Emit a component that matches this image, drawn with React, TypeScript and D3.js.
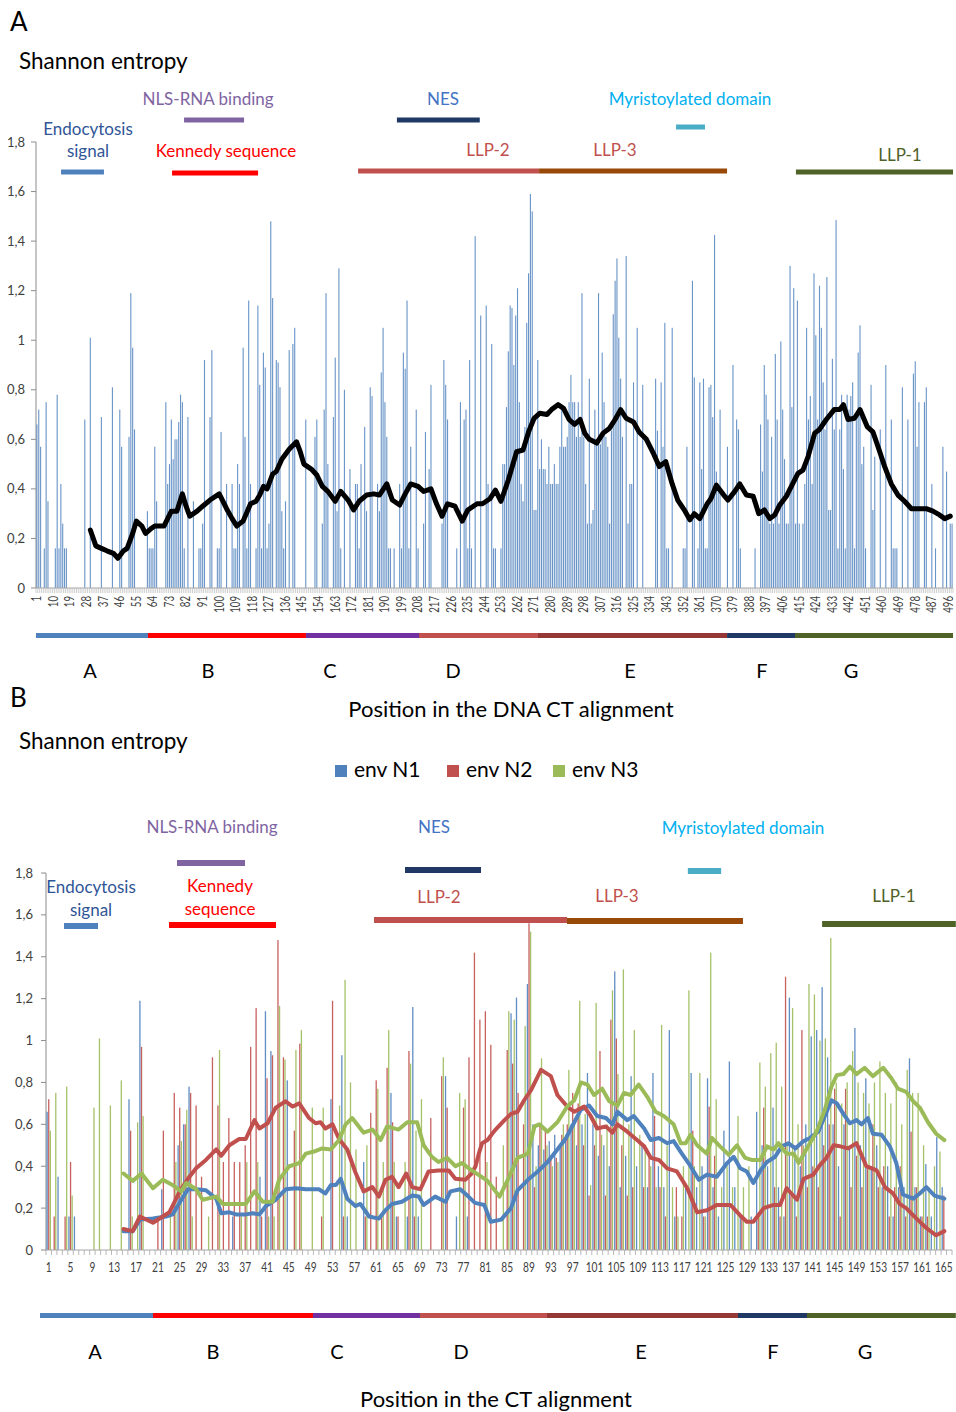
import React from "react";
import * as d3 from "d3";

const NTOP = 498;
const NBOT = 166;

// Panel A: entropy per DNA position [position, entropy]
const topBars: [number, number][] = [
[1,.66],[2,.72],[3,.57],[5,.16],[6,.75],[7,.35],[11,.16],[12,.78],[13,.16],[14,.42],[15,.26],[16,.16],[17,.16],[27,.68],[30,1.01],[36,.69],[42,.81],[46,.72],[47,.57],[51,.61],[52,1.19],[53,.97],[54,.64],[61,.31],[62,.16],[63,.16],[64,.16],[65,.57],[66,.35],[71,.75],[72,.42],[73,.5],[74,.68],[75,.52],[76,.6],[77,.6],[78,.67],[79,.78],[80,.75],[81,.16],[83,.69],[86,.35],[89,.16],[90,.16],[91,.26],[92,.92],[95,.69],[96,.96],[99,.16],[100,.16],[101,.63],[104,.42],[107,.42],[108,.16],[109,.16],[110,.5],[111,.42],[113,.97],[114,.61],[115,.16],[116,1.16],[117,.42],[120,.16],[121,1.14],[122,.82],[123,.16],[124,.95],[125,.89],[126,.16],[127,.26],[128,1.48],[129,1.17],[131,.92],[132,.91],[133,.81],[134,.31],[135,.16],[136,.35],[138,.96],[140,.985],[141,1.05],[147,.68],[152,.61],[153,.68],[156,.26],[157,.72],[158,1.19],[159,.5],[162,.69],[163,.93],[164,.31],[165,1.29],[166,.16],[168,.8],[171,.48],[174,.42],[175,.42],[176,.16],[177,.5],[179,.65],[180,.31],[182,.81],[183,.775],[186,.42],[187,.31],[188,.87],[189,1.05],[190,.75],[191,.61],[192,.16],[193,.16],[195,.16],[198,.42],[199,.16],[200,.95],[201,.885],[202,1.16],[203,.16],[204,.57],[207,.72],[208,.16],[211,.26],[212,.63],[214,.48],[215,.82],[221,.26],[222,.92],[223,.82],[224,.68],[229,.16],[231,.75],[233,.68],[234,.72],[235,.16],[236,.92],[237,.16],[239,1.42],[242,1.1],[245,1.14],[246,.42],[248,.985],[249,.16],[250,.16],[253,.16],[254,.5],[255,.5],[256,.73],[257,.955],[258,1.14],[259,1.13],[260,.9],[261,1.1],[262,1.21],[263,.75],[264,.42],[265,.35],[266,.65],[267,1.07],[268,1.27],[269,1.59],[270,1.52],[271,.315],[272,.315],[273,.92],[274,.48],[275,.6],[276,.48],[277,.48],[278,.42],[279,.57],[280,.42],[281,.42],[282,.5],[283,.42],[284,.42],[285,.57],[286,.73],[287,.57],[288,.57],[289,.61],[290,.75],[291,.86],[292,.75],[293,.75],[294,.61],[295,.75],[296,.61],[297,1.19],[298,.61],[299,.42],[300,.26],[301,.845],[302,.26],[303,.315],[304,.72],[305,.6],[306,1.19],[307,.58],[308,.95],[309,.75],[310,.61],[311,.57],[312,.26],[313,.635],[314,1.105],[315,1.24],[316,1.33],[317,1.01],[318,.845],[319,.61],[321,1.34],[322,.26],[323,.42],[324,.42],[325,.83],[327,1.05],[330,.82],[337,.845],[338,.635],[340,.83],[341,.57],[342,1.07],[343,.16],[344,.16],[346,1.05],[352,.16],[353,.16],[354,.57],[357,1.24],[358,.85],[360,.16],[361,.83],[362,.48],[363,.845],[364,.16],[365,.16],[366,.81],[367,.82],[368,.69],[369,1.425],[370,.47],[371,.42],[372,.72],[376,.57],[379,.9],[381,.68],[382,.64],[383,.16],[391,.16],[394,.66],[395,.47],[396,.9],[397,.78],[398,.68],[399,.26],[400,.61],[401,.26],[402,.945],[403,.68],[404,.26],[405,.995],[406,.72],[407,.52],[408,.26],[409,.26],[410,1.3],[411,.73],[412,1.21],[413,.26],[414,1.16],[415,.26],[417,.26],[418,.42],[419,1.05],[420,.68],[421,.775],[422,.42],[423,1.27],[424,1.02],[425,.68],[426,1.22],[427,1.05],[428,.83],[429,.64],[430,1.255],[431,.315],[432,.315],[433,.925],[434,.64],[435,1.485],[436,.16],[437,.64],[438,.78],[439,.48],[440,.16],[441,.78],[442,.72],[443,.775],[444,.83],[445,.16],[446,.68],[447,.95],[448,1.06],[449,.5],[450,.57],[451,.16],[454,.82],[455,.315],[456,.53],[459,.64],[462,.9],[465,.68],[466,.16],[467,.16],[468,.16],[471,.81],[474,.68],[477,.865],[478,.915],[479,.57],[480,.75],[483,.75],[484,.81],[487,.42],[489,.16],[493,.57],[495,.47],[497,.26],[498,.26]
];

// Panel A: moving-average trend [position, entropy]
const topTrend: [number, number][] = [
[30,.234],[33,.17],[36,.16],[39,.15],[42.5,.14],[45,.12],[48,.15],[50,.16],[53,.22],[55,.27],[58,.25],[60,.22],[63,.24],[65,.25],[70,.25],[74,.31],[77,.31],[80,.38],[82,.33],[84,.29],[88,.31],[91,.33],[95,.355],[100,.38],[104,.32],[107,.28],[109.5,.25],[113,.27],[117,.34],[120,.35],[122,.375],[124,.41],[126,.40],[129,.46],[131,.47],[134,.52],[138,.56],[142,.59],[144,.55],[146,.50],[150,.48],[153,.456],[156,.41],[159,.39],[163,.35],[166,.39],[170,.355],[173,.315],[176,.35],[180,.375],[184,.38],[187,.375],[191,.42],[194,.355],[198,.335],[201,.38],[204,.42],[208,.41],[211,.39],[215,.40],[218,.34],[221,.29],[224,.34],[228,.33],[232,.27],[235,.315],[240,.34],[243,.34],[247,.36],[250,.395],[253,.35],[257,.436],[261.5,.55],[265,.557],[268,.63],[271,.685],[274,.705],[278,.70],[280.5,.72],[284,.74],[287,.725],[290,.68],[293,.66],[296,.68],[298.5,.625],[301,.60],[305,.585],[308.5,.625],[312,.645],[315,.68],[318,.72],[321,.685],[325,.67],[328,.63],[332,.60],[336,.54],[339,.49],[342.5,.51],[346,.42],[349,.355],[353,.31],[355.6,.275],[358,.30],[361,.28],[365,.34],[367,.36],[370,.415],[374,.375],[376.3,.355],[380,.39],[382.7,.42],[386.3,.375],[390,.37],[393,.30],[396,.315],[399,.28],[401.7,.295],[404.4,.335],[408,.37],[410.7,.41],[414.3,.463],[417,.476],[419.8,.53],[423.4,.625],[426,.64],[429.7,.68],[434,.72],[437,.72],[439,.74],[441.5,.68],[445,.685],[448,.72],[452,.65],[455,.63],[457.8,.57],[461.4,.49],[465,.42],[468.6,.375],[472.2,.35],[475.9,.32],[480.4,.32],[484,.32],[487.6,.31],[491.2,.295],[494,.28],[497,.29]
];

// Panel B: entropy per CT position (1..166)
const envN1: number[] = [
.66,0,.35,0,.16,.16,0,0,0,0,
0,0,0,0,0,.72,0,1.19,0,0,
0,.29,0,0,.50,.60,.78,0,0,0,
0,0,0,0,.16,0,0,0,0,.35,
1.14,.95,0,0,.81,0,0,0,0,0,
0,0,.72,0,.93,.16,0,0,.42,0,
0,0,0,.75,.16,0,.16,1.16,.16,0,
0,0,0,.83,0,.16,0,.16,0,0,
0,0,0,0,0,1.13,1.205,0,1.27,.60,
.50,.48,.52,.55,.50,.55,.60,.50,.60,.845,
.60,.45,.50,.40,1.33,.30,.45,.83,.40,.50,
.30,.845,.40,.30,1.05,.16,0,.30,.845,.30,
.40,.82,.30,.16,.57,.90,.30,.16,0,.16,
.66,.50,.40,.68,.30,.16,1.205,.50,.40,.60,
1.02,1.05,1.255,.92,.60,.40,.60,.50,1.06,.50,
.82,.40,.50,.30,.40,.16,.30,.30,.915,.30,
.16,.41,.16,.54,.30,0
];
const envN2: number[] = [
.72,.16,0,.16,.42,0,0,0,0,0,
0,0,0,0,0,.57,0,.97,0,0,
.16,.57,0,.75,.68,.60,.75,.69,.35,0,
.92,.69,.42,.63,.42,.42,.50,.97,1.155,.16,
.82,.93,1.48,.92,0,.57,.985,0,0,0,
.16,0,1.19,0,.16,0,0,0,.16,.655,
.81,.16,.87,.61,.16,0,.95,.16,0,0,
.63,0,.83,.68,0,0,.68,.92,1.42,1.10,
1.14,.98,.35,0,.955,.89,.75,.60,1.56,.30,
.60,.58,.45,.44,.55,.60,.75,.70,.50,.26,
.50,.95,.26,1.10,1.01,.50,.26,.30,0,.30,
.45,.64,.30,.16,0,.30,.16,0,.57,0,
.16,.685,.45,0,0,0,0,.16,0,0,
.16,.68,0,.30,.16,1.305,.26,.16,1.05,.30,
.40,.30,.50,.60,.77,.16,.77,.30,.45,.30,
.40,.60,.30,.40,.16,.30,.40,.16,.565,.30,
.16,.16,0,0,.26,0
];
const envN3: number[] = [
.57,.75,0,.78,.26,0,0,0,.68,1.01,
0,.69,0,.81,0,.16,.61,.64,0,0,
0,0,.16,.42,.52,.67,.16,0,0,.16,
0,.955,0,0,0,.16,.42,0,.42,0,
.16,.16,1.165,.91,0,.955,1.05,0,.68,0,
.68,0,0,.69,1.29,.80,.48,0,.50,0,
.77,.42,1.05,.42,0,.42,.89,.57,.72,0,
0,0,.92,0,0,.75,.72,0,0,0,
.42,0,0,.50,1.14,1.10,0,1.07,1.52,.40,
.915,.50,.40,.42,.60,.86,.60,1.19,.65,.31,
1.18,.55,.60,1.24,.84,1.34,.60,1.05,.55,.50,
.40,.30,1.075,.50,.30,.16,.40,1.24,.40,.845,
.16,1.42,.72,.30,.40,.30,.64,.30,.40,0,
.895,.78,.94,.99,.78,.50,1.155,.60,.50,1.27,
1.22,1.00,1.01,1.49,.80,.70,.80,.95,.80,.75,
.70,.80,.90,.75,.70,.80,.60,.86,.75,.75,
.50,.30,.40,.47,0,0
];

const trendN1: [number, number][] = [
[14.7,.09],[16.4,.09],[17.7,.145],[20.1,.15],[22.5,.16],[23.7,.17],[25.3,.24],[26.5,.29],[28,.29],[29.8,.285],[31.7,.245],[32.6,.175],[34.1,.18],[35.3,.17],[37.1,.17],[38.4,.175],[39.6,.17],[40.8,.21],[42.6,.24],[44.4,.29],[46.3,.295],[48.1,.29],[50.5,.29],[51.7,.27],[52.7,.31],[53.6,.31],[54.5,.34],[55.7,.245],[57.2,.21],[58.1,.22],[59.7,.16],[61.5,.15],[62.7,.19],[63.9,.22],[65.7,.23],[67.6,.26],[68.8,.255],[69.7,.215],[71.8,.255],[73.7,.23],[74.6,.28],[76.4,.29],[77.9,.255],[79.1,.225],[80.8,.215],[82,.135],[83.9,.145],[85.7,.20],[86.9,.285],[88.8,.335],[90.6,.375],[92.4,.42],[94.2,.48],[95.8,.535],[97.3,.61],[98.5,.67],[100,.69],[101.5,.64],[103.1,.63],[104.3,.60],[105.2,.66],[107,.62],[108.2,.64],[110.1,.58],[111.3,.525],[112.8,.535],[114.3,.51],[115.5,.52],[117,.46],[118.6,.40],[120.1,.335],[121.6,.36],[123.4,.35],[125.3,.415],[126.5,.445],[127.7,.39],[128.9,.375],[130.1,.32],[131.4,.38],[132.6,.42],[134.1,.445],[135.3,.495],[136.5,.51],[137.8,.485],[139.3,.52],[140.5,.535],[142,.565],[143.2,.64],[144.4,.715],[145.4,.70],[146.6,.65],[147.8,.605],[149,.62],[149.9,.60],[151.1,.63],[152,.555],[153.6,.55],[155.1,.495],[156.3,.415],[157.5,.265],[159.4,.245],[160.6,.27],[161.8,.30],[163.3,.26],[165.1,.245]
];
const trendN2: [number, number][] = [
[14.7,.10],[16.4,.09],[17.7,.16],[20.1,.13],[21.9,.16],[23.1,.18],[25,.28],[26.5,.34],[28,.39],[29.8,.43],[31.7,.48],[32.6,.45],[34.1,.50],[35.9,.53],[37.1,.53],[38.7,.62],[39.6,.58],[41.1,.605],[42.6,.68],[44.4,.71],[45.7,.685],[46.9,.70],[48.7,.63],[49.9,.605],[50.8,.61],[51.7,.58],[53,.60],[54.2,.53],[55.7,.48],[57.2,.37],[58.7,.28],[60.3,.30],[61.5,.255],[62.7,.335],[63.9,.35],[65.1,.30],[66.5,.365],[67.6,.30],[69.1,.29],[70.6,.375],[72.4,.38],[74.3,.38],[75.5,.34],[77.3,.335],[78.5,.365],[79.2,.40],[79.8,.46],[80.4,.51],[81.4,.525],[82.7,.57],[84.5,.62],[85.7,.65],[86.9,.66],[88.1,.715],[89.4,.765],[91.2,.86],[93,.83],[94.2,.74],[96,.685],[97.3,.66],[99.1,.685],[100.3,.64],[101.5,.58],[103.1,.59],[104.3,.56],[105.2,.60],[107,.565],[108.8,.525],[110.1,.495],[111.3,.44],[112.8,.43],[114.3,.39],[116.1,.375],[118,.295],[119.8,.18],[121.6,.19],[123.4,.215],[125.9,.215],[127.7,.165],[128.9,.135],[130.1,.135],[132,.20],[133.8,.215],[135,.215],[136.2,.295],[138.1,.24],[139.3,.34],[141.1,.36],[142.3,.405],[143.5,.44],[144.8,.50],[146,.495],[147.5,.485],[149,.51],[150.8,.40],[152.7,.38],[154.2,.30],[155.7,.27],[156.9,.22],[158.1,.20],[160,.15],[161.8,.105],[163.6,.07],[165.1,.09]
];
const trendN3: [number, number][] = [
[14.7,.365],[16.4,.33],[18,.365],[20.1,.295],[21.9,.335],[23.7,.31],[25.3,.28],[26.2,.32],[28,.29],[29.2,.24],[31.7,.255],[32.9,.22],[34.7,.22],[37.1,.22],[38.7,.28],[40.2,.23],[42,.23],[43.2,.335],[45.05,.40],[46.9,.415],[48.1,.46],[49.6,.47],[51.1,.485],[52.7,.48],[54.2,.525],[55.4,.60],[56.6,.63],[58.7,.56],[60.3,.575],[61.8,.525],[63,.59],[65.1,.575],[66.7,.61],[68.5,.61],[69.7,.50],[71.2,.445],[72.4,.42],[74,.44],[75.5,.40],[76.7,.415],[78.5,.38],[79.7,.36],[81.4,.33],[83.6,.255],[85.1,.335],[86.9,.44],[88.8,.46],[90,.59],[90.9,.60],[92.4,.565],[94.2,.61],[96,.685],[97.3,.715],[98.5,.80],[99.7,.79],[100.9,.74],[102.4,.77],[103.7,.71],[105.2,.69],[106.4,.75],[107.6,.74],[109.1,.79],[110.7,.73],[112.2,.66],[113.7,.64],[115.5,.60],[116.8,.51],[117.7,.51],[118.6,.55],[119.8,.50],[121.6,.46],[122.5,.535],[124,.495],[125.6,.455],[127.1,.50],[128.6,.44],[129.8,.43],[131.4,.43],[132.6,.495],[133.8,.48],[134.7,.51],[136.2,.46],[137.5,.46],[138.4,.415],[139.9,.485],[141.7,.565],[143.2,.67],[144.4,.78],[145.4,.835],[146.6,.84],[147.8,.875],[149,.84],[150.5,.87],[152,.83],[153.9,.87],[155.4,.82],[156.6,.77],[158.1,.755],[159.4,.71],[160.6,.68],[162.1,.61],[163.6,.555],[165.1,.525]
];

const yTickValues = [0, 0.2, 0.4, 0.6, 0.8, 1, 1.2, 1.4, 1.6, 1.8];
const yTickLabels = ["0", "0,2", "0,4", "0,6", "0,8", "1", "1,2", "1,4", "1,6", "1,8"];

const seriesNames = ["env N1", "env N2", "env N3"];
const seriesColors = ["#4f81bd", "#c0504d", "#9bbb59"];

// Domains (spans in alignment positions)
const domainIds = ["endo", "nls", "kennedy", "nes", "llp2", "llp3", "myr", "llp1"];
const topDomainStart = [13.6, 80.4, 73.9, 196, 174.9, 273.2, 347.6, 412.7];
const topDomainEnd = [36.9, 113, 120.6, 241, 273.2, 375.3, 363.3, 498];
const botDomainStart = [3.3, 24, 22.54, 65.78, 60.1, 95.46, 117.6, 142.2];
const botDomainEnd = [9.53, 36.46, 42.14, 79.7, 95.46, 127.7, 123.7, 166.7];
const domainBarColors = ["#4f81bd", "#8064a2", "#ff0000", "#1f3864", "#c0504d", "#984807", "#4bacc6", "#4f6228"];

const regionNames = ["A", "B", "C", "D", "E", "F", "G"];
const topRegionEdges = [0, 60.8, 146.6, 208, 272.6, 375.3, 412.2, 498];
const botRegionEdges = [-1.1, 19.6, 48.92, 68.52, 91.79, 126.78, 139.43, 166.7];
const regionColors = ["#4f81bd", "#ff0000", "#7030a0", "#c0504d", "#953735", "#1f3864", "#4f6228"];

const FONT = "Lato, 'Open Sans', sans-serif";

export default function App() {
  const W = 956, H = 1412;

  // ---------- Panel A scales ----------
  const xT = d3.scaleBand<number>().domain(d3.range(1, NTOP + 1)).range([36, 953]);
  const eT = d3.scaleLinear().domain([0, NTOP]).range([36, 953]);
  const yT = d3.scaleLinear().domain([0, 1.8]).range([588, 142]);
  const bwT = xT.bandwidth();
  const lineT = d3.line<[number, number]>().x(d => eT(d[0] - 0.5)).y(d => yT(d[1]));
  const topTickPos = d3.range(1, NTOP + 1, 9);

  // ---------- Panel B scales ----------
  const B0 = 46, B1 = 952;
  const xB = d3.scaleBand<number>().domain(d3.range(1, NBOT + 1)).range([B0, B1]);
  const eB = d3.scaleLinear().domain([0, NBOT]).range([B0, B1]);
  const yB = d3.scaleLinear().domain([0, 1.8]).range([1250, 873]);
  const bwB = xB.bandwidth();
  const lineB = d3.line<[number, number]>().x(d => eB(d[0] - 0.5)).y(d => yB(d[1]));
  const botTickPos = d3.range(1, NBOT, 4);
  const series = [envN1, envN2, envN3];
  const trends = [trendN1, trendN2, trendN3];
  const offsets = [-1.6, 0, 1.6];

  const axisText = "#404040";
  const axisLine = "#8c8c8c";

  // text layout for annotation labels
  const topDomainText: { id: string; lines: string[]; x: number; y: number; color: string }[] = [
    { id: "endo", lines: ["Endocytosis", "signal"], x: 88, y: 135, color: "#2f5597" },
    { id: "nls", lines: ["NLS-RNA binding"], x: 208, y: 105, color: "#8064a2" },
    { id: "kennedy", lines: ["Kennedy  sequence"], x: 226, y: 157, color: "#ff0000" },
    { id: "nes", lines: ["NES"], x: 443, y: 105, color: "#4472c4" },
    { id: "llp2", lines: ["LLP-2"], x: 488, y: 156, color: "#c0504d" },
    { id: "llp3", lines: ["LLP-3"], x: 615, y: 156, color: "#c0504d" },
    { id: "myr", lines: ["Myristoylated domain"], x: 690, y: 105, color: "#00b0f0" },
    { id: "llp1", lines: ["LLP-1"], x: 900, y: 161, color: "#4f6228" },
  ];
  const topDomainBarY = [172, 120, 173, 120, 171, 171, 127, 172];
  const botDomainText: { id: string; lines: string[]; x: number; y: number; color: string }[] = [
    { id: "endo", lines: ["Endocytosis", "signal"], x: 91, y: 893, color: "#2f5597" },
    { id: "nls", lines: ["NLS-RNA binding"], x: 212, y: 833, color: "#8064a2" },
    { id: "kennedy", lines: ["Kennedy", "sequence"], x: 220, y: 892, color: "#ff0000" },
    { id: "nes", lines: ["NES"], x: 434, y: 833, color: "#4472c4" },
    { id: "llp2", lines: ["LLP-2"], x: 439, y: 903, color: "#c0504d" },
    { id: "llp3", lines: ["LLP-3"], x: 617, y: 902, color: "#c0504d" },
    { id: "myr", lines: ["Myristoylated domain"], x: 743, y: 834, color: "#00b0f0" },
    { id: "llp1", lines: ["LLP-1"], x: 894, y: 902, color: "#4f6228" },
  ];
  const botDomainBarY = [926, 863, 925, 870, 920, 921, 871, 924];
  const topRegionLabelX = [90, 208, 330, 453, 630, 762, 851];
  const botRegionLabelX = [95, 213, 337, 461, 641, 773, 865];

  return (
    <div style={{ position: "absolute", left: 0, top: 0, width: W, height: H, background: "#fff" }}>
      <svg width={W} height={H} style={{ display: "block", fontFamily: FONT }}>
        <rect width={W} height={H} fill="#fff" />

        {/* ================= PANEL A ================= */}
        <text x={10} y={31} fontSize={26} fill="#000">A</text>
        <text x={19} y={69} fontSize={22.5} fill="#000">Shannon entropy</text>

        {domainIds.map((id, i) => (
          <rect key={"tdb" + id} x={eT(topDomainStart[i])} y={topDomainBarY[i] - 2.5}
            width={eT(topDomainEnd[i]) - eT(topDomainStart[i])} height={5} fill={domainBarColors[i]} />
        ))}
        {topDomainText.map(d => (
          <text key={"tdt" + d.id} x={d.x} y={d.y} fontSize={17} fill={d.color} textAnchor="middle">
            {d.lines.map((l, j) => <tspan key={j} x={d.x} dy={j === 0 ? 0 : 22}>{l}</tspan>)}
          </text>
        ))}

        {/* y axis */}
        <line x1={36} x2={36} y1={yT(1.8)} y2={yT(0)} stroke={axisLine} strokeWidth={1} />
        {yTickValues.map((v, i) => (
          <g key={"tyt" + i}>
            <line x1={31} x2={36} y1={yT(v)} y2={yT(v)} stroke={axisLine} />
            <text x={25} y={yT(v)} dy="0.35em" fontSize={13} fill={axisText} textAnchor="end">{yTickLabels[i]}</text>
          </g>
        ))}

        {/* bars */}
        {topBars.map(([p, v]) => (
          <rect key={"tb" + p} x={(xT(p) as number) + bwT / 2 - 0.55} y={yT(v)} width={1.1}
            height={yT(0) - yT(v)} fill="#4f81bd" fillOpacity={0.85} />
        ))}

        {/* x axis */}
        <line x1={36} x2={953} y1={588} y2={588} stroke="#a6a6a6" />
        {d3.range(0, NTOP + 1).map(k => (
          <line key={"txt" + k} x1={eT(k)} x2={eT(k)} y1={588} y2={593} stroke="#b0b0b0" strokeWidth={0.6} />
        ))}
        {topTickPos.map(p => (
          <text key={"txl" + p} transform={`translate(${(xT(p) as number) + bwT / 2},${596}) rotate(-90)`}
            dy="0.35em" fontSize={12.5} fill={axisText} textAnchor="end"
            textLength={String(p).length * 5.6} lengthAdjust="spacingAndGlyphs">{p}</text>
        ))}

        <path d={lineT(topTrend) || ""} fill="none" stroke="#000" strokeWidth={5} strokeLinejoin="round" strokeLinecap="round" />

        {regionNames.map((r, i) => (
          <g key={"tr" + r}>
            <rect x={eT(topRegionEdges[i])} y={633} width={eT(topRegionEdges[i + 1]) - eT(topRegionEdges[i])} height={5} fill={regionColors[i]} />
            <text x={topRegionLabelX[i]} y={678} fontSize={20} fill="#000" textAnchor="middle">{r}</text>
          </g>
        ))}
        <text x={511} y={717} fontSize={22} fill="#000" textAnchor="middle">Position in the DNA CT alignment</text>

        {/* ================= PANEL B ================= */}
        <text x={10} y={707} fontSize={26} fill="#000">B</text>
        <text x={19} y={749} fontSize={22.5} fill="#000">Shannon entropy</text>

        {seriesNames.map((s, i) => {
          const lx = [335, 447, 553][i];
          return (
            <g key={"lg" + s}>
              <rect x={lx} y={765} width={12} height={12} fill={seriesColors[i]} />
              <text x={lx + 19} y={777} fontSize={21} fill="#000">{s}</text>
            </g>
          );
        })}

        {domainIds.map((id, i) => (
          <rect key={"bdb" + id} x={eB(botDomainStart[i])} y={botDomainBarY[i] - 3}
            width={Math.min(eB(botDomainEnd[i]), W) - eB(botDomainStart[i])} height={6} fill={domainBarColors[i]} />
        ))}
        {botDomainText.map(d => (
          <text key={"bdt" + d.id} x={d.x} y={d.y} fontSize={17} fill={d.color} textAnchor="middle">
            {d.lines.map((l, j) => <tspan key={j} x={d.x} dy={j === 0 ? 0 : 23}>{l}</tspan>)}
          </text>
        ))}

        {/* y axis */}
        <line x1={B0} x2={B0} y1={yB(1.8)} y2={yB(0)} stroke={axisLine} />
        {yTickValues.map((v, i) => (
          <g key={"byt" + i}>
            <line x1={B0 - 5} x2={B0} y1={yB(v)} y2={yB(v)} stroke={axisLine} />
            <text x={33} y={yB(v)} dy="0.35em" fontSize={13} fill={axisText} textAnchor="end">{yTickLabels[i]}</text>
          </g>
        ))}

        {series.map((arr, si) =>
          arr.map((v, k) => v > 0 ? (
            <rect key={"bb" + si + "_" + k} x={(xB(k + 1) as number) + bwB / 2 + offsets[si] - 0.65}
              y={yB(v)} width={1.3} height={yB(0) - yB(v)} fill={seriesColors[si]} fillOpacity={0.9} />
          ) : null)
        )}

        {/* x axis */}
        <line x1={B0} x2={B1} y1={1250} y2={1250} stroke="#a6a6a6" />
        {d3.range(0, NBOT + 1).map(k => (
          <line key={"bxt" + k} x1={eB(k)} x2={eB(k)} y1={1250} y2={1255} stroke="#a6a6a6" strokeWidth={0.8} />
        ))}
        {botTickPos.map(p => (
          <text key={"bxl" + p} x={(xB(p) as number) + bwB / 2} y={1272} fontSize={13} fill={axisText} textAnchor="middle"
            textLength={String(p).length * 5.9} lengthAdjust="spacingAndGlyphs">{p}</text>
        ))}

        {trends.map((t, si) => (
          <path key={"bt" + si} d={lineB(t) || ""} fill="none" stroke={seriesColors[si]} strokeWidth={4}
            strokeLinejoin="round" strokeLinecap="round" />
        ))}

        {regionNames.map((r, i) => (
          <g key={"br" + r}>
            <rect x={eB(botRegionEdges[i])} y={1313} width={Math.min(eB(botRegionEdges[i + 1]), W) - eB(botRegionEdges[i])} height={5} fill={regionColors[i]} />
            <text x={botRegionLabelX[i]} y={1359} fontSize={20} fill="#000" textAnchor="middle">{r}</text>
          </g>
        ))}
        <text x={496} y={1407} fontSize={22} fill="#000" textAnchor="middle">Position in the CT alignment</text>
      </svg>
    </div>
  );
}
